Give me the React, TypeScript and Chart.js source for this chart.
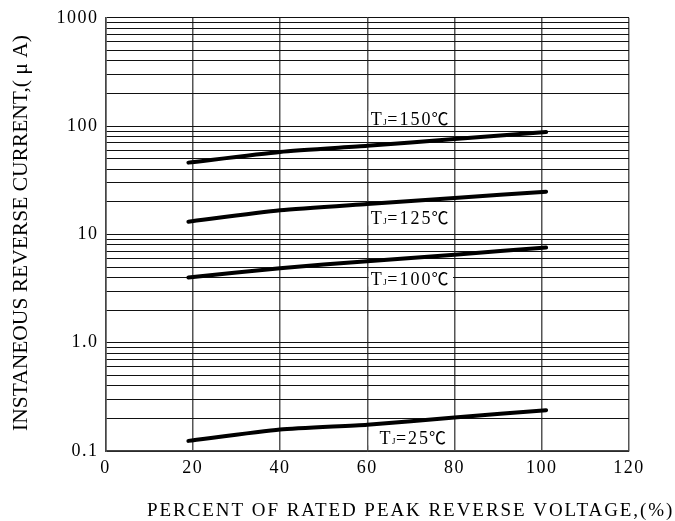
import React, { useEffect, useRef } from 'react';
import { Chart, registerables } from 'chart.js';

Chart.register(...registerables);

// ---- data ----
const percentX = [19, 40, 60, 80, 101];
const tj150 = [46, 57.7, 65.7, 76, 88];
const tj125 = [13.1, 16.7, 19.1, 21.7, 24.8];
const tj100 = [4.0, 4.88, 5.66, 6.5, 7.56];
const tj25 = [0.124, 0.158, 0.175, 0.204, 0.238];

const seriesTemps = ['150', '125', '100', '25'];
const labelX = [60.8, 60.8, 60.8, 62.8];
const labelY = [117.8, 14.2, 3.87, 0.132];

const xTicks = [0, 20, 40, 60, 80, 100, 120];
const yMajorTicks = [0.1, 1, 10, 100, 1000];
const yMajorLabels = ['0.1', '1.0', '10', '100', '1000'];
const yDecades = [0.1, 1, 10, 100];
const yMultipliers = [1, 2, 3, 4, 5, 6, 7, 8, 9];

const xTitle = 'PERCENT OF RATED PEAK REVERSE VOLTAGE,(%)';
const yTitle = 'INSTANEOUS REVERSE CURRENT,( μ A)';

const SERIF = '"Liberation Serif", "Times New Roman", serif';

const yGridValues: number[] = [];
yDecades.forEach((d) => yMultipliers.forEach((m) => yGridValues.push(parseFloat((m * d).toPrecision(3)))));
yGridValues.push(1000);

const annotationPlugin = {
  id: 'tjLabels',
  beforeDraw(chart: any) {
    chart.ctx.letterSpacing = '1.5px';
  },
  afterDatasetsDraw(chart: any) {
    const ctx = chart.ctx;
    const xs = chart.scales.x;
    const ys = chart.scales.y;
    seriesTemps.forEach((t, i) => {
      const px = xs.getPixelForValue(labelX[i]);
      const py = ys.getPixelForValue(labelY[i]);
      ctx.save();
      ctx.fillStyle = '#fff';
      const bl = xs.getPixelForValue(60) + 1.5;
      const br = xs.getPixelForValue(80) - 1.5;
      ctx.fillRect(bl, py - 7.5, br - bl, 15);
      ctx.fillStyle = '#000';
      ctx.textBaseline = 'alphabetic';
      ctx.textAlign = 'left';
      const base = py + 6.3;
      ctx.font = '18px ' + SERIF;
      ctx.letterSpacing = '1.5px';
      ctx.fillText('T', px, base);
      let x = px + ctx.measureText('T').width;
      ctx.font = '9px ' + SERIF;
      ctx.letterSpacing = '0.5px';
      ctx.fillText('J', x, base);
      x += ctx.measureText('J').width;
      ctx.font = '18px ' + SERIF;
      ctx.letterSpacing = '2px';
      const s = '=' + t;
      ctx.fillText(s, x, base);
      x += ctx.measureText(s).width;
      ctx.font = '17px "Noto Sans CJK JP", ' + SERIF;
      ctx.letterSpacing = '0px';
      ctx.fillText('℃', x - 1, base);
      ctx.restore();
    });
  },
  afterDraw(chart: any) {
    const ctx = chart.ctx;
    ctx.save();
    ctx.fillStyle = '#000';
    ctx.letterSpacing = '1.95px';
    ctx.font = '19px ' + SERIF;
    ctx.textAlign = 'left';
    ctx.textBaseline = 'alphabetic';
    ctx.fillText(xTitle, 147, 516);
    ctx.restore();

    ctx.save();
    ctx.fillStyle = '#000';
    ctx.letterSpacing = '0px';
    ctx.font = '21.5px ' + SERIF;
    ctx.textAlign = 'center';
    ctx.textBaseline = 'alphabetic';
    ctx.translate(26.5, 233);
    ctx.rotate(-Math.PI / 2);
    ctx.fillText(yTitle, 0, 0);
    ctx.restore();
  },
};

export default function App() {
  const ref = useRef<HTMLCanvasElement>(null);
  useEffect(() => {
    if (!ref.current) return;
    const mk = (data: number[]) => ({
      data: percentX.map((x, i) => ({ x, y: data[i] })),
      borderColor: '#000',
      borderWidth: 4,
      pointRadius: 0,
      tension: 0.2,
      borderCapStyle: 'round' as const,
      fill: false,
    });
    const chart = new Chart(ref.current, {
      type: 'line',
      data: {
        datasets: [mk(tj150), mk(tj125), mk(tj100), mk(tj25)],
      },
      options: {
        animation: false,
        responsive: false,
        devicePixelRatio: 1,
        layout: { padding: { left: 0, right: 46, top: 16, bottom: 0 } },
        plugins: { legend: { display: false }, tooltip: { enabled: false } },
        scales: {
          x: {
            type: 'linear',
            min: 0,
            max: 120,
            afterBuildTicks: (s: any) => {
              s.ticks = xTicks.map((v) => ({ value: v }));
            },
            afterFit: (s: any) => {
              s.height = 70;
            },
            ticks: {
              autoSkip: false,
              maxRotation: 0,
              padding: 6,
              color: '#000',
              font: { family: SERIF, size: 18 },
            },
            grid: { color: '#555', lineWidth: 1.5, drawTicks: false },
            border: { display: true, color: '#444', width: 1.5 },
          },
          y: {
            type: 'logarithmic',
            min: 0.1,
            max: 1000,
            afterBuildTicks: (s: any) => {
              s.ticks = yGridValues.map((v) => ({ value: v }));
            },
            afterFit: (s: any) => {
              s.width = 105.5;
            },
            ticks: {
              autoSkip: false,
              padding: 7,
              color: '#000',
              font: { family: SERIF, size: 18 },
              callback: (v: any) => {
                const i = yMajorTicks.findIndex((m) => Math.abs(m - Number(v)) < 1e-9);
                return i >= 0 ? yMajorLabels[i] : '';
              },
            },
            grid: { color: '#111', lineWidth: 1, drawTicks: false },
            border: { display: true, color: '#444', width: 1.5 },
          },
        },
      },
      plugins: [annotationPlugin],
    });
    return () => chart.destroy();
  }, []);
  return (
    <div style={{ position: 'absolute', left: 0, top: 0, width: 675, height: 521, background: '#fff' }}>
      <canvas ref={ref} width={675} height={521} style={{ display: 'block' }} />
    </div>
  );
}
